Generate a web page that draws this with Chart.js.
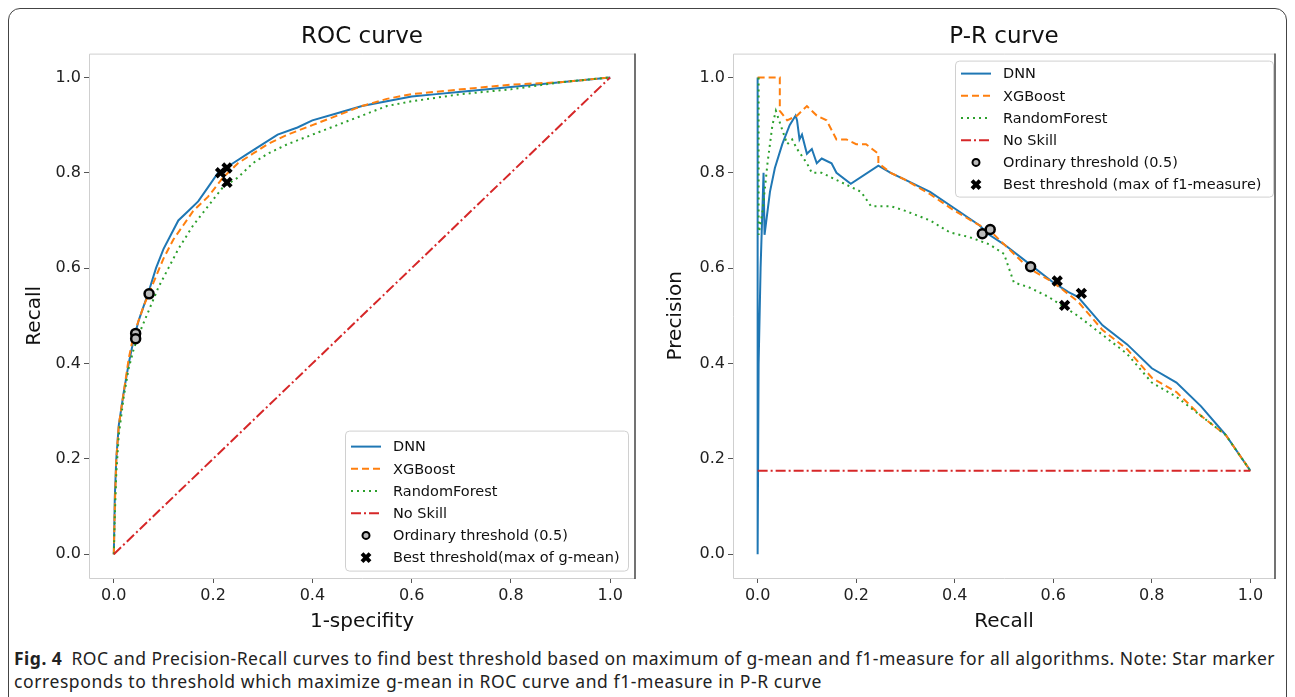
<!DOCTYPE html>
<html>
<head>
<meta charset="utf-8">
<script src="https://cdn.jsdelivr.net/npm/chart.js@4.4.1/dist/chart.umd.min.js"></script>
<style>
  html, body { margin: 0; padding: 0; background: #fff; }
  #page { position: relative; width: 1295px; height: 697px; overflow: hidden; }
  #frame { position: absolute; left: 8px; top: 8px; width: 1279px; height: 720px;
           border: 1px solid #444; border-radius: 12px; box-sizing: border-box; }
  #roc { position: absolute; left: 0; top: 0; }
  #pr { position: absolute; left: 660px; top: 0; }
  #caption { position: absolute; left: 14px; top: 647px; font-family: "Noto Sans", sans-serif;
             font-size: 17.5px; line-height: 23px; color: #222; white-space: nowrap; }
  #caption b { font-weight: 700; margin-right: 4px; }
</style>
</head>
<body>
<div id="page">
  <div id="frame"></div>
  <canvas id="roc" width="660" height="640"></canvas>
  <canvas id="pr" width="635" height="640"></canvas>
  <div id="caption"><span id="cap1"><b>Fig. 4</b> ROC and Precision-Recall curves to find best threshold based on maximum of g-mean and f1-measure for all algorithms. Note: Star marker</span><br><span id="cap2">corresponds to threshold which maximize g-mean in ROC curve and f1-measure in P-R curve</span></div>
</div>
<script>
// ===== data =====
const axisTicks = [0, 0.2, 0.4, 0.6, 0.8, 1.0];

// ROC: [fpr, tpr]
const rocDNN = [[0,0],[0.002,0.12],[0.005,0.2],[0.01,0.27],[0.02,0.34],[0.03,0.4],[0.04,0.45],[0.05,0.49],
  [0.07,0.55],[0.085,0.6],[0.1,0.64],[0.115,0.67],[0.13,0.7],[0.15,0.72],[0.17,0.74],[0.19,0.77],[0.21,0.8],
  [0.24,0.82],[0.27,0.84],[0.3,0.86],[0.33,0.88],[0.37,0.895],[0.4,0.91],[0.45,0.925],[0.5,0.94],[0.55,0.95],
  [0.6,0.96],[0.65,0.965],[0.7,0.97],[0.8,0.98],[0.9,0.99],[1,1]];
const rocXGB = [[0,0],[0.002,0.1],[0.005,0.2],[0.01,0.27],[0.02,0.34],[0.03,0.41],[0.04,0.46],[0.06,0.52],
  [0.08,0.57],[0.1,0.62],[0.12,0.66],[0.14,0.69],[0.16,0.72],[0.19,0.75],[0.22,0.79],[0.25,0.82],[0.28,0.84],
  [0.31,0.86],[0.35,0.88],[0.4,0.9],[0.45,0.92],[0.5,0.94],[0.55,0.955],[0.6,0.965],[0.7,0.975],[0.8,0.985],
  [0.9,0.99],[1,1]];
const rocRF = [[0,0],[0.002,0.08],[0.005,0.17],[0.01,0.25],[0.02,0.33],[0.03,0.39],[0.04,0.43],[0.05,0.46],
  [0.07,0.51],[0.09,0.56],[0.11,0.6],[0.13,0.64],[0.16,0.69],[0.19,0.73],[0.22,0.77],[0.25,0.79],[0.28,0.82],
  [0.31,0.84],[0.35,0.86],[0.4,0.88],[0.45,0.9],[0.5,0.92],[0.55,0.94],[0.6,0.95],[0.7,0.965],[0.8,0.975],
  [0.9,0.99],[1,1]];
const rocNoSkill = [[0,0],[1,1]];
const rocOrdinary = [[0.044,0.463],[0.044,0.452],[0.071,0.546]];
const rocBest = [[0.215,0.80],[0.228,0.81],[0.228,0.78]];

// P-R: [recall, precision]
const prDNN = [[0,1],[0,0],[0.002,0.4],[0.006,0.6],[0.012,0.8],[0.014,0.67],[0.025,0.76],[0.035,0.81],
  [0.05,0.86],[0.065,0.9],[0.077,0.92],[0.08,0.91],[0.085,0.87],[0.09,0.88],[0.1,0.84],[0.11,0.85],
  [0.12,0.82],[0.13,0.83],[0.15,0.82],[0.16,0.8],[0.189,0.777],[0.245,0.815],[0.27,0.8],[0.3,0.785],
  [0.35,0.76],[0.4,0.725],[0.45,0.69],[0.47,0.67],[0.5,0.65],[0.55,0.61],[0.6,0.57],[0.63,0.55],[0.65,0.54],
  [0.7,0.48],[0.75,0.44],[0.8,0.39],[0.85,0.36],[0.9,0.31],[0.95,0.25],[1,0.175]];
const prXGB = [[0,1],[0.045,1],[0.045,0.93],[0.06,0.91],[0.08,0.92],[0.1,0.94],[0.12,0.92],[0.14,0.91],
  [0.16,0.87],[0.18,0.87],[0.2,0.86],[0.22,0.86],[0.245,0.84],[0.245,0.82],[0.27,0.8],[0.3,0.785],[0.35,0.755],
  [0.4,0.72],[0.45,0.69],[0.47,0.68],[0.5,0.65],[0.55,0.6],[0.6,0.57],[0.65,0.53],[0.7,0.47],[0.75,0.43],
  [0.8,0.37],[0.85,0.34],[0.9,0.29],[0.95,0.25],[1,0.175]];
const prRF = [[0.002,1],[0.002,0.67],[0.01,0.72],[0.02,0.82],[0.03,0.9],[0.037,0.93],[0.05,0.89],[0.06,0.86],
  [0.07,0.87],[0.08,0.85],[0.1,0.82],[0.11,0.8],[0.13,0.8],[0.15,0.79],[0.19,0.77],[0.21,0.76],[0.23,0.73],
  [0.27,0.73],[0.3,0.72],[0.35,0.7],[0.39,0.675],[0.43,0.665],[0.47,0.65],[0.5,0.63],[0.51,0.6],[0.52,0.57],
  [0.55,0.56],[0.59,0.54],[0.62,0.52],[0.65,0.5],[0.7,0.46],[0.75,0.42],[0.8,0.36],[0.85,0.33],[0.9,0.29],
  [0.95,0.25],[1,0.175]];
const prNoSkill = [[0,0.175],[1,0.175]];
const prOrdinary = [[0.456,0.672],[0.472,0.681],[0.554,0.603]];
const prBest = [[0.608,0.573],[0.657,0.547],[0.623,0.522]];

// ===== styles =====
const C_BLUE = '#1f77b4', C_ORANGE = '#ff7f0e', C_GREEN = '#2ca02c', C_RED = '#d62728';
const FONT = 'DejaVu Sans';
const DASH_XGB = [7, 4], DASH_RF = [2, 4], DASH_NS = [10, 3, 2, 3];

const pts = arr => arr.map(p => ({ x: p[0], y: p[1] }));

function lineSet(label, data, color, dash, order) {
  return { label, data: pts(data), showLine: true, borderColor: color, borderWidth: 2,
    borderDash: dash, pointRadius: 0, fill: false, tension: 0, order };
}

function seriesFor(dnn, xgb, rf, ns, ord, best) {
  return [
    lineSet('DNN', dnn, C_BLUE, [], 6),
    lineSet('XGBoost', xgb, C_ORANGE, DASH_XGB, 5),
    lineSet('RandomForest', rf, C_GREEN, DASH_RF, 4),
    lineSet('No Skill', ns, C_RED, DASH_NS, 3),
    { label: 'ord', data: pts(ord), showLine: false, pointStyle: 'circle', pointRadius: 4.5,
      pointBorderWidth: 2.5, pointBorderColor: '#000', pointBackgroundColor: '#bbb', order: 2 },
    { label: 'best', data: pts(best), showLine: false, pointStyle: 'crossRot', pointRadius: 6,
      pointBorderWidth: 4, pointBorderColor: '#000', pointBackgroundColor: '#000', order: 1 }
  ];
}

// frame round the plot area (light left/top/bottom, dark right like the scan)
const framePlugin = {
  id: 'frameBox',
  afterDatasetsDraw(chart) {
    const { ctx, chartArea: a } = chart;
    ctx.save();
    ctx.lineWidth = 1;
    ctx.strokeStyle = '#cfcfcf';
    ctx.beginPath();
    ctx.moveTo(a.right, a.top + 0.5); ctx.lineTo(a.left + 0.5, a.top + 0.5);
    ctx.lineTo(a.left + 0.5, a.bottom + 0.5); ctx.lineTo(a.right, a.bottom + 0.5);
    ctx.stroke();
    ctx.strokeStyle = '#444';
    ctx.lineWidth = 1.5;
    ctx.beginPath();
    ctx.moveTo(a.right, a.top); ctx.lineTo(a.right, a.bottom + 1);
    ctx.stroke();
    ctx.restore();
  }
};

// legend inside the axes
const legendPlugin = {
  id: 'legendBox',
  afterDraw(chart, args, o) {
    const { ctx, chartArea: a } = chart;
    const x = a.left + o.x, y = a.top + o.y;
    ctx.save();
    ctx.fillStyle = 'rgba(255,255,255,0.85)';
    ctx.strokeStyle = '#d0d0d0';
    ctx.lineWidth = 1;
    ctx.beginPath();
    ctx.roundRect(x + 0.5, y + 0.5, o.w, o.h, 4);
    ctx.fill(); ctx.stroke();
    ctx.font = '14.5px "' + FONT + '"';
    ctx.textBaseline = 'middle';
    o.items.forEach((it, i) => {
      const cy = y + o.first + i * o.step;
      const sx = x + 6, ex = x + 36, mx = (sx + ex) / 2;
      if (it.kind === 'line') {
        ctx.strokeStyle = it.color; ctx.lineWidth = 2; ctx.setLineDash(it.dash);
        ctx.beginPath(); ctx.moveTo(sx, cy); ctx.lineTo(ex, cy); ctx.stroke();
        ctx.setLineDash([]);
      } else if (it.kind === 'circle') {
        ctx.fillStyle = '#bbb'; ctx.strokeStyle = '#000'; ctx.lineWidth = 2;
        ctx.beginPath(); ctx.arc(mx, cy, 3.5, 0, Math.PI * 2); ctx.fill(); ctx.stroke();
      } else {
        ctx.strokeStyle = '#000'; ctx.lineWidth = 4; const r = 4;
        ctx.beginPath(); ctx.moveTo(mx - r, cy - r); ctx.lineTo(mx + r, cy + r);
        ctx.moveTo(mx + r, cy - r); ctx.lineTo(mx - r, cy + r); ctx.stroke();
      }
      ctx.fillStyle = '#111';
      ctx.fillText(it.label, x + 48, cy + 1);
    });
    ctx.restore();
  }
};

function legendItems(bestLabel) {
  return [
    { kind: 'line', label: 'DNN', color: C_BLUE, dash: [] },
    { kind: 'line', label: 'XGBoost', color: C_ORANGE, dash: DASH_XGB },
    { kind: 'line', label: 'RandomForest', color: C_GREEN, dash: DASH_RF },
    { kind: 'line', label: 'No Skill', color: C_RED, dash: DASH_NS },
    { kind: 'circle', label: 'Ordinary threshold (0.5)' },
    { kind: 'x', label: bestLabel }
  ];
}

function axis(title, fitFn) {
  return {
    type: 'linear', min: -0.05, max: 1.05,
    afterBuildTicks: s => { s.ticks = axisTicks.map(v => ({ value: v })); },
    afterFit: fitFn,
    grid: { drawOnChartArea: false, drawTicks: true, tickLength: 5, color: '#555' },
    border: { display: false },
    ticks: { color: '#222', padding: 3, font: { family: FONT, size: 16 },
             callback: v => v.toFixed(1), maxRotation: 0 },
    title: { display: true, text: title, color: '#111', padding: { top: 4, bottom: 4 },
             font: { family: FONT, size: 20 } }
  };
}

function makeChart(el, title, xTitle, yTitle, yWidth, pad, datasets, legend) {
  return new Chart(el, {
    type: 'scatter',
    data: { datasets },
    options: {
      responsive: false, animation: false, devicePixelRatio: 1, events: [],
      layout: { padding: pad },
      plugins: {
        legend: { display: false }, tooltip: { enabled: false },
        title: { display: true, text: title, color: '#111', fullSize: false, padding: { top: 10, bottom: 3 },
                 font: { family: FONT, size: 23, weight: 'normal' } },
        legendBox: legend
      },
      scales: {
        x: axis(xTitle, s => { s.height = 60; }),
        y: axis(yTitle, s => { s.width = yWidth; })
      }
    },
    plugins: [framePlugin, legendPlugin]
  });
}

makeChart(document.getElementById('roc'), 'ROC curve', '1-specifity', 'Recall', 70,
  { left: 19, right: 25, top: 13, bottom: 2 },
  seriesFor(rocDNN, rocXGB, rocRF, rocNoSkill, rocOrdinary, rocBest),
  { x: 256, y: 377, w: 283, h: 140, first: 16, step: 22.2, items: legendItems('Best threshold(max of g-mean)') });

makeChart(document.getElementById('pr'), 'P-R curve', 'Recall', 'Precision', 73,
  { left: 0, right: 20, top: 13, bottom: 2 },
  seriesFor(prDNN, prXGB, prRF, prNoSkill, prOrdinary, prBest),
  { x: 222, y: 7, w: 318, h: 136, first: 13, step: 22.2, items: legendItems('Best threshold (max of f1-measure)') });

// stretch caption lines to the width they have in the figure
function fitLine(id, target) {
  const el = document.getElementById(id);
  const n = el.textContent.length;
  const w = el.getBoundingClientRect().width;
  el.style.letterSpacing = ((target - w) / n) + 'px';
}
fitLine('cap1', 1261);
fitLine('cap2', 808);
</script>
</body>
</html>
